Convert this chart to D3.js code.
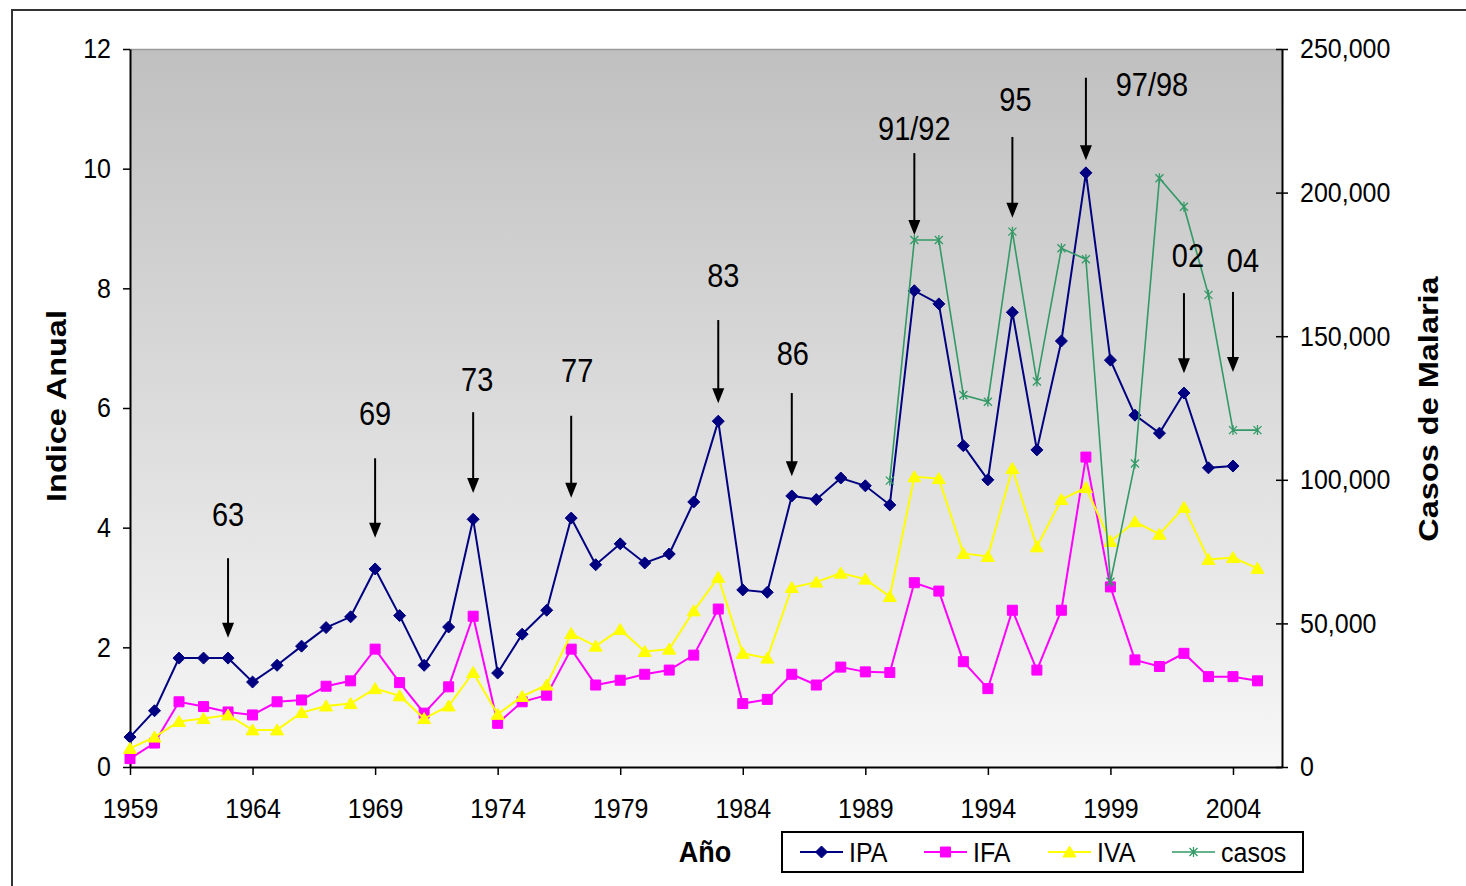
<!DOCTYPE html>
<html>
<head>
<meta charset="utf-8">
<script src="https://cdn.jsdelivr.net/npm/d3@7"></script>
<style>
  body { margin: 0; background: #fff; }
  svg text { font-family: "Liberation Sans", Arial, sans-serif; fill: #000; }
</style>
</head>
<body>
<script>
'use strict';

// ---- data ----
const years = [1959, 1960, 1961, 1962, 1963, 1964, 1965, 1966, 1967, 1968,
  1969, 1970, 1971, 1972, 1973, 1974, 1975, 1976, 1977, 1978,
  1979, 1980, 1981, 1982, 1983, 1984, 1985, 1986, 1987, 1988,
  1989, 1990, 1991, 1992, 1993, 1994, 1995, 1996, 1997, 1998,
  1999, 2000, 2001, 2002, 2003, 2004, 2005]

// IPA ends in 2004
const ipa = [0.50, 0.94, 1.82, 1.82, 1.82, 1.42, 1.70, 2.02, 2.33, 2.51,
  3.31, 2.53, 1.70, 2.34, 4.14, 1.57, 2.22, 2.62, 4.16, 3.38,
  3.73, 3.41, 3.56, 4.43, 5.78, 2.96, 2.92, 4.53, 4.47, 4.83,
  4.70, 4.38, 7.96, 7.74, 5.37, 4.80, 7.60, 5.30, 7.12, 9.93,
  6.80, 5.88, 5.58, 6.25, 5.00, 5.03]

const ifa = [0.14, 0.40, 1.09, 1.01, 0.92, 0.87, 1.09, 1.12, 1.35, 1.44,
  1.97, 1.41, 0.90, 1.34, 2.52, 0.73, 1.09, 1.20, 1.97, 1.37,
  1.45, 1.55, 1.62, 1.87, 2.64, 1.06, 1.13, 1.55, 1.37, 1.67,
  1.59, 1.58, 3.08, 2.94, 1.76, 1.31, 2.62, 1.62, 2.62, 5.18,
  3.01, 1.79, 1.68, 1.90, 1.51, 1.51, 1.44]

const iva = [0.31, 0.50, 0.76, 0.81, 0.87, 0.62, 0.62, 0.91, 1.02, 1.06,
  1.31, 1.19, 0.81, 1.02, 1.58, 0.88, 1.18, 1.37, 2.23, 2.02,
  2.30, 1.93, 1.97, 2.61, 3.17, 1.90, 1.82, 3.00, 3.09, 3.24,
  3.14, 2.85, 4.85, 4.82, 3.57, 3.52, 4.99, 3.68, 4.47, 4.67,
  3.77, 4.10, 3.89, 4.34, 3.47, 3.50, 3.32]

const casosYears = [1990, 1991, 1992, 1993, 1994, 1995, 1996, 1997,
  1998, 1999, 2000, 2001, 2002, 2003, 2004, 2005]
const casos = [99700, 183500, 183500, 129500, 127200, 186400, 134200, 180600,
  176800, 64500, 105700, 205000, 195100, 164400, 117300, 117300]

const leftTicks = [0, 2, 4, 6, 8, 10, 12]
const rightTicks = [0, 50000, 100000, 150000, 200000, 250000]
const xTicks = [1959, 1964, 1969, 1974, 1979, 1984, 1989, 1994, 1999, 2004]

// arrow annotations: tip / top of arrow and label baseline in "Indice Anual" units
const notes = [
  { year: 1963, label: '63',    tip: 2.16, top: 3.49,  text: 4.03,  dx: 0 },
  { year: 1969, label: '69',    tip: 3.83, top: 5.16,  text: 5.72,  dx: 0 },
  { year: 1973, label: '73',    tip: 4.58, top: 5.93,  text: 6.28,  dx: 4 },
  { year: 1977, label: '77',    tip: 4.50, top: 5.87,  text: 6.43,  dx: 6 },
  { year: 1983, label: '83',    tip: 6.08, top: 7.47,  text: 8.02,  dx: 5 },
  { year: 1986, label: '86',    tip: 4.86, top: 6.25,  text: 6.72,  dx: 1 },
  { year: 1991, label: '91/92', tip: 8.89, top: 10.26, text: 10.48, dx: 0 },
  { year: 1995, label: '95',    tip: 9.18, top: 10.53, text: 10.96, dx: 3 },
  { year: 1998, label: '97/98', tip: 10.14, top: 11.52, text: 11.21, dx: 66 },
  { year: 2002, label: '02',    tip: 6.58, top: 7.92,  text: 8.36,  dx: 4 },
  { year: 2004, label: '04',    tip: 6.60, top: 7.94,  text: 8.27,  dx: 10 }
]

const legendNames = ['IPA', 'IFA', 'IVA', 'casos']

// ---- layout ----
const m = { width: 1466, height: 886, left: 130, right: 1282, top: 49, bottom: 767 }
const SY = 1.12   // text in the picture is stretched vertically
const colors = { IPA: '#000080', IFA: '#FF00FF', IVA: '#FFFF00', casos: '#339966' }

const svg = d3.select('body').append('svg')
  .attr('width', m.width)
  .attr('height', m.height)

const defs = svg.append('defs')
const grad = defs.append('linearGradient')
  .attr('id', 'plotbg').attr('x1', 0).attr('x2', 0).attr('y1', 0).attr('y2', 1)
grad.append('stop').attr('offset', '0%').attr('stop-color', '#c0c0c0')
grad.append('stop').attr('offset', '100%').attr('stop-color', '#f7f7f7')

// outer chart border (only top and left are inside the picture)
svg.append('rect')
  .attr('x', 12).attr('y', 10)
  .attr('width', 1500).attr('height', 950)
  .style('fill', 'none').style('stroke', '#333').style('stroke-width', 2)

const x = d3.scaleLinear().domain([1959, 2006]).range([m.left, m.right])
const yL = d3.scaleLinear().domain([0, 12]).range([m.bottom, m.top])
const yR = d3.scaleLinear().domain([0, 250000]).range([m.bottom, m.top])

svg.append('rect')
  .attr('x', m.left).attr('y', m.top)
  .attr('width', m.right - m.left).attr('height', m.bottom - m.top)
  .style('fill', 'url(#plotbg)')
svg.append('line')
  .attr('x1', m.left).attr('x2', m.right).attr('y1', m.top + 0.5).attr('y2', m.top + 0.5)
  .style('stroke', '#9a9a9a').style('stroke-width', 1.5)

function stretchAxisText(g) {
  g.selectAll('text').each(function () {
    const t = d3.select(this)
    const tx = +t.attr('x') || 0
    const ty = +t.attr('y') || 0
    t.attr('x', 0).attr('y', 0)
      .attr('transform', 'translate(' + tx + ',' + ty + ') scale(1,' + SY + ')')
  })
}

function styleAxis(g) {
  g.select('.domain').style('stroke', '#000').style('stroke-width', 2)
  g.selectAll('.tick line').style('stroke', '#000').style('stroke-width', 1.5)
  g.selectAll('text').style('font-size', '25px').style('fill', '#000')
  stretchAxisText(g)
}

const gx = svg.append('g')
  .attr('transform', 'translate(0,' + m.bottom + ')')
  .call(d3.axisBottom(x).tickValues(xTicks).tickFormat(d3.format('d'))
    .tickSize(8).tickSizeOuter(0).tickPadding(23))
styleAxis(gx)

const gl = svg.append('g')
  .attr('transform', 'translate(' + m.left + ',0)')
  .call(d3.axisLeft(yL).tickValues(leftTicks).tickSize(7).tickSizeOuter(0).tickPadding(12))
styleAxis(gl)

const gr = svg.append('g')
  .attr('transform', 'translate(' + m.right + ',0)')
  .call(d3.axisRight(yR).tickValues(rightTicks).tickFormat(d3.format(','))
    .tickSize(6).tickSizeOuter(0).tickPadding(12))
gr.selectAll('.tick line').attr('x1', -6).attr('x2', 6)
styleAxis(gr)

// ---- series ----
const diamond = 'M0,-6L6,0L0,6L-6,0Z'
const square = 'M-5,-5L5,-5L5,5L-5,5Z'
const triangle = 'M0,-6L6.5,5L-6.5,5Z'
const star = 'M-4,-4L4,4M-4,4L4,-4M0,-5L0,5'

function drawSeries(name, xs, vals, yScale, shape, width) {
  const pts = vals.map((v, i) => ({ year: xs[i], value: v }))
  const line = d3.line().x(d => x(d.year)).y(d => yScale(d.value))
  const g = svg.append('g').attr('class', 'series-' + name)
  g.append('path')
    .datum(pts)
    .attr('d', line)
    .style('fill', 'none')
    .style('stroke', colors[name])
    .style('stroke-width', width)
  g.selectAll('path.mark')
    .data(pts)
    .enter()
    .append('path')
    .attr('class', 'mark')
    .attr('transform', d => 'translate(' + x(d.year) + ',' + yScale(d.value) + ')')
    .attr('d', shape)
    .style('fill', name === 'casos' ? 'none' : colors[name])
    .style('stroke', colors[name])
    .style('stroke-width', name === 'casos' ? 1.3 : 1)
}

drawSeries('IPA', years.slice(0, ipa.length), ipa, yL, diamond, 2)
drawSeries('IFA', years, ifa, yL, square, 2)
drawSeries('IVA', years, iva, yL, triangle, 2)
drawSeries('casos', casosYears, casos, yR, star, 1.6)

// ---- arrows and labels ----
const ann = svg.append('g').attr('class', 'annotations')
notes.forEach(n => {
  const ax = x(n.year)
  const tipY = yL(n.tip)
  ann.append('line')
    .attr('x1', ax).attr('x2', ax)
    .attr('y1', yL(n.top)).attr('y2', tipY - 10)
    .style('stroke', '#000').style('stroke-width', 2)
  ann.append('path')
    .attr('d', 'M' + (ax - 6) + ',' + (tipY - 15) + 'L' + (ax + 6) + ',' + (tipY - 15) +
      'L' + ax + ',' + tipY + 'Z')
    .style('fill', '#000')
  ann.append('text')
    .attr('transform', 'translate(' + (ax + n.dx) + ',' + yL(n.text) + ') scale(1,' + SY + ')')
    .attr('text-anchor', 'middle')
    .style('font-size', '29px')
    .text(n.label)
})

// ---- axis titles ----
svg.append('text')
  .attr('transform', 'translate(66,406) rotate(-90) scale(1.16,1)')
  .attr('text-anchor', 'middle')
  .style('font-size', '28px').style('font-weight', 'bold')
  .text('Indice Anual')

svg.append('text')
  .attr('transform', 'translate(1438,409) rotate(-90) scale(1.16,1)')
  .attr('text-anchor', 'middle')
  .style('font-size', '28px').style('font-weight', 'bold')
  .text('Casos de Malaria')

svg.append('text')
  .attr('transform', 'translate(705,862) scale(1,1.08)')
  .attr('text-anchor', 'middle')
  .style('font-size', '27px').style('font-weight', 'bold')
  .text('Año')

// ---- legend ----
const legend = svg.append('g').attr('class', 'legend')
legend.append('rect')
  .attr('x', 782).attr('y', 832).attr('width', 521).attr('height', 40)
  .style('fill', '#fff').style('stroke', '#000').style('stroke-width', 2)

const legendShapes = { IPA: diamond, IFA: square, IVA: triangle, casos: star }
legendNames.forEach((name, i) => {
  const lx = 800 + i * 124
  const ly = 852
  legend.append('line')
    .attr('x1', lx).attr('x2', lx + 43).attr('y1', ly).attr('y2', ly)
    .style('stroke', colors[name]).style('stroke-width', name === 'casos' ? 1.6 : 2)
  legend.append('path')
    .attr('transform', 'translate(' + (lx + 21.5) + ',' + ly + ')')
    .attr('d', legendShapes[name])
    .style('fill', name === 'casos' ? 'none' : colors[name])
    .style('stroke', colors[name])
    .style('stroke-width', name === 'casos' ? 1.3 : 1)
  legend.append('text')
    .attr('transform', 'translate(' + (lx + 49) + ',' + (ly + 10) + ') scale(1,' + SY + ')')
    .style('font-size', '25px')
    .text(name)
})
</script>
</body>
</html>
